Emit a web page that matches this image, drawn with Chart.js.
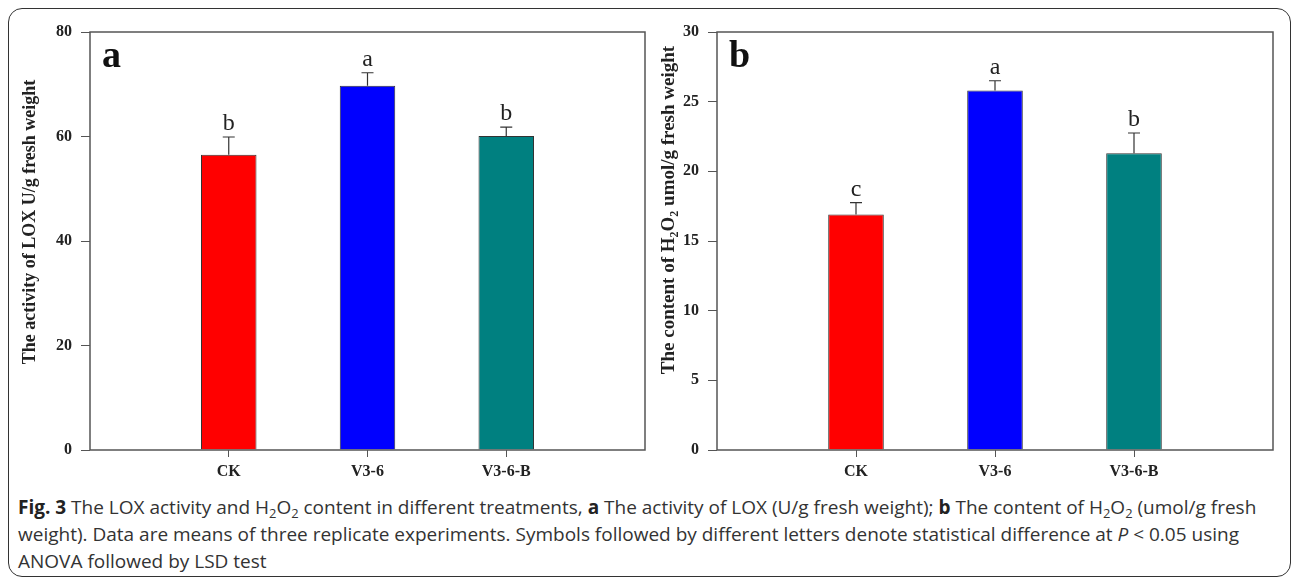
<!DOCTYPE html>
<html>
<head>
<meta charset="utf-8">
<script src="https://cdn.jsdelivr.net/npm/chart.js@4.4.0/dist/chart.umd.min.js"></script>
<style>
body { margin: 0; background: #fff; width: 1295px; height: 580px; overflow: hidden; position: relative; }
#frame { position: absolute; left: 8px; top: 8px; width: 1283px; height: 569px; border: 1.5px solid #333; border-radius: 14px; box-sizing: border-box; }
.panel { position: absolute; top: 10px; height: 480px; }
#left { left: 10px; width: 640px; }
#right { left: 650px; width: 630px; }
#caption { position: absolute; left: 18px; top: 494px; font-family: "Open Sans", sans-serif; font-size: 19px; line-height: 27px; color: #333; white-space: nowrap; }
#caption b { color: #222; }
#caption sub { font-size: 0.68em; vertical-align: -0.3em; line-height: 0; }
</style>
</head>
<body>
<div id="frame"></div>
<div class="panel" id="left"><canvas id="loxChart"></canvas></div>
<div class="panel" id="right"><canvas id="h2o2Chart"></canvas></div>
<div id="caption">
  <div><b>Fig. 3</b> The LOX activity and H<sub>2</sub>O<sub>2</sub> content in different treatments, <b>a</b> The activity of LOX (U/g fresh weight); <b>b</b> The content of H<sub>2</sub>O<sub>2</sub> (umol/g fresh</div>
  <div>weight). Data are means of three replicate experiments. Symbols followed by different letters denote statistical difference at <i>P</i> &lt; 0.05 using</div>
  <div>ANOVA followed by LSD test</div>
</div>

<script>
// DATA
const categories = ["CK", "V3-6", "V3-6-B"];
const barColors = ["#ff0000", "#0000ff", "#008080"];

const loxMeans = [56.5, 69.7, 60.1];
const loxErrors = [3.4, 2.5, 1.7];
const loxLetters = ["b", "a", "b"];
const loxTicks = { max: 80, step: 20 };

const h2o2Means = [16.9, 25.8, 21.3];
const h2o2Errors = [0.85, 0.7, 1.45];
const h2o2Letters = ["c", "a", "b"];
const h2o2Ticks = { max: 30, step: 5 };

const SERIF = '"Liberation Serif", "Times New Roman", serif';
const INK = "#333";

// blank slot on each side so the three bars sit at 1/4, 2/4, 3/4 of the width
const labels = ["", ...categories, ""];
const pad = arr => [null, ...arr, null];

// draws rotated axis title with subscripts, the plot box, error bars, letters and panel tag
function makeExtras(cfg) {
    return {
        id: "extras",
        afterDraw(chart) {
            const ctx = chart.ctx;
            const area = chart.chartArea;
            const y = chart.scales.y;
            const meta = chart.getDatasetMeta(0);

            // error bars + significance letters
            ctx.save();
            ctx.strokeStyle = INK;
            ctx.lineWidth = 1.2;
            cfg.means.forEach((m, i) => {
                const bar = meta.data[i + 1];
                const top = y.getPixelForValue(m + cfg.errors[i]);
                const base = y.getPixelForValue(m);
                ctx.beginPath();
                ctx.moveTo(bar.x, base);
                ctx.lineTo(bar.x, top);
                ctx.moveTo(bar.x - 6, top);
                ctx.lineTo(bar.x + 6, top);
                ctx.stroke();

                ctx.fillStyle = "#222";
                ctx.font = "24px " + SERIF;
                ctx.textAlign = "center";
                ctx.textBaseline = "alphabetic";
                ctx.fillText(cfg.letters[i], bar.x, top - 7);
            });

            // plot box
            ctx.strokeStyle = "#555";
            ctx.lineWidth = 1.5;
            ctx.strokeRect(area.left, area.top, area.right - area.left, area.bottom - area.top);

            // panel tag
            ctx.fillStyle = "#111";
            ctx.font = "bold 38px " + SERIF;
            ctx.textAlign = "left";
            ctx.fillText(cfg.tag, area.left + 12, area.top + 35);

            // rotated y title
            ctx.translate(cfg.titleX, cfg.titleY);
            ctx.rotate(-Math.PI / 2);
            const big = "bold " + cfg.titleSize + "px " + SERIF;
            const small = "bold " + Math.round(cfg.titleSize * 0.65) + "px " + SERIF;
            let total = 0;
            cfg.title.forEach(p => {
                ctx.font = p.sub ? small : big;
                total += ctx.measureText(p.t).width;
            });
            let x = -total / 2;
            ctx.fillStyle = "#222";
            ctx.textBaseline = "middle";
            cfg.title.forEach(p => {
                ctx.font = p.sub ? small : big;
                ctx.fillText(p.t, x, p.sub ? 6 : 0);
                x += ctx.measureText(p.t).width;
            });
            ctx.restore();
        }
    };
}

function buildChart(canvasId, means, ticks, axisWidth, padRight, extras) {
    return new Chart(document.getElementById(canvasId), {
        type: "bar",
        data: {
            labels: labels,
            datasets: [{
                data: pad(means),
                backgroundColor: pad(barColors),
                borderColor: INK,
                borderWidth: 1,
                categoryPercentage: 1,
                barPercentage: 0.4
            }]
        },
        options: {
            responsive: true,
            maintainAspectRatio: false,
            animation: false,
            layout: { padding: { top: 22, right: padRight, left: 0, bottom: 0 } },
            plugins: { legend: { display: false }, tooltip: { enabled: false } },
            scales: {
                x: {
                    offset: false,
                    border: { display: false },
                    grid: {
                        offset: false,
                        drawOnChartArea: false,
                        tickLength: 7,
                        tickColor: c => (labels[c.index] ? "#555" : "rgba(0,0,0,0)")
                    },
                    ticks: { color: "#222", padding: 5, font: { family: SERIF, size: 16, weight: "bold" } },
                    afterFit: s => { s.height = 40; }
                },
                y: {
                    min: 0,
                    max: ticks.max,
                    border: { display: false },
                    grid: { drawOnChartArea: false, tickLength: 9, tickColor: "#555" },
                    ticks: { stepSize: ticks.step, color: "#222", padding: 9, font: { family: SERIF, size: 16, weight: "bold" } },
                    afterFit: s => { s.width = axisWidth; }
                }
            }
        },
        plugins: [extras]
    });
}

buildChart("loxChart", loxMeans, loxTicks, 80, 4, makeExtras({
    means: loxMeans, errors: loxErrors, letters: loxLetters, tag: "a",
    titleX: 20, titleY: 212, titleSize: 18,
    title: [{ t: "The activity of LOX U/g fresh weight" }]
}));

buildChart("h2o2Chart", h2o2Means, h2o2Ticks, 67, 7, makeExtras({
    means: h2o2Means, errors: h2o2Errors, letters: h2o2Letters, tag: "b",
    titleX: 19, titleY: 200, titleSize: 19,
    title: [
        { t: "The content of H" }, { t: "2", sub: true }, { t: "O" }, { t: "2", sub: true },
        { t: " umol/g fresh weight" }
    ]
}));
</script>
</body>
</html>
